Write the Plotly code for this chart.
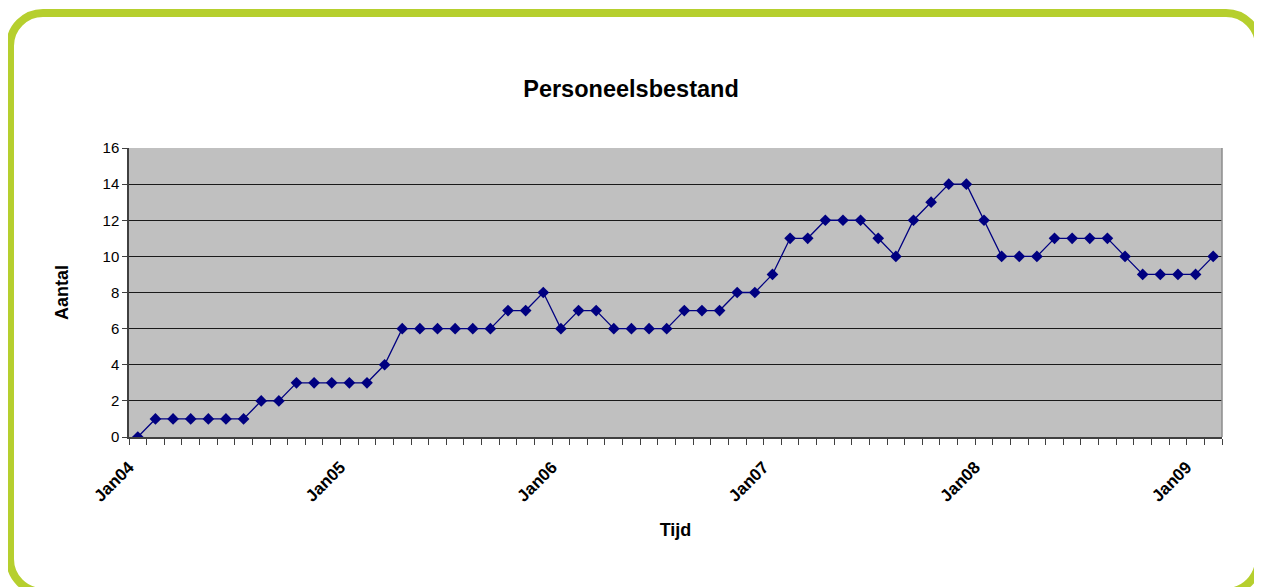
import plotly.graph_objects as go

months = ["Jan", "Feb", "Mar", "Apr", "May", "Jun", "Jul", "Aug", "Sep", "Oct", "Nov", "Dec"]
years = ["04", "05", "06", "07", "08", "09"]
categories = [m + y for y in years for m in months][:62]  # Jan04 .. Feb09

aantal = [0, 1, 1, 1, 1, 1, 1, 2, 2, 3, 3, 3, 3, 3, 4, 6, 6, 6, 6, 6, 6, 7, 7, 8,
          6, 7, 7, 6, 6, 6, 6, 7, 7, 7, 8, 8, 9, 11, 11, 12, 12, 12, 11, 10, 12, 13,
          14, 14, 12, 10, 10, 10, 11, 11, 11, 11, 10, 9, 9, 9, 9, 10]

x_idx = list(range(len(categories)))
label_idx = [i for i, c in enumerate(categories) if c.startswith("Jan")]
label_text = [categories[i] for i in label_idx]

OFF = 8  # default body margin of the html page
W, H = 1262 - OFF, 587 - OFF
L, R, T, B = 129 - OFF, 1222 - OFF, 148 - OFF, 437 - OFF


def px(x):
    return (x - OFF - L) / (R - L)


def py(y):
    return (B - (y - OFF)) / (B - T)


fig = go.Figure()
fig.add_trace(go.Scatter(
    x=x_idx, y=aantal, mode="lines+markers",
    line=dict(color="#000080", width=1.3),
    marker=dict(symbol="diamond", size=9, color="#000080"),
    hovertext=categories, showlegend=False,
))

# rounded green frame (window pixel coordinates)
l, t, r, b, rad = 10, 13, 1259, 592, 33
k = rad * 0.5523
path = (
    f"M {px(l)},{py(t + rad)} L {px(l)},{py(b - rad)} "
    f"C {px(l)},{py(b - rad + k)} {px(l + rad - k)},{py(b)} {px(l + rad)},{py(b)} "
    f"L {px(r - rad)},{py(b)} "
    f"C {px(r - rad + k)},{py(b)} {px(r)},{py(b - rad + k)} {px(r)},{py(b - rad)} "
    f"L {px(r)},{py(t + rad)} "
    f"C {px(r)},{py(t + rad - k)} {px(r - rad + k)},{py(t)} {px(r - rad)},{py(t)} "
    f"L {px(l + rad)},{py(t)} "
    f"C {px(l + rad - k)},{py(t)} {px(l)},{py(t + rad - k)} {px(l)},{py(t + rad)} Z"
)
fig.add_shape(type="path", xref="paper", yref="paper", path=path,
              line=dict(color="#B6CF2E", width=8), layer="above")
# right border of plot area
fig.add_shape(type="line", xref="paper", yref="paper", x0=1, x1=1, y0=0, y1=1,
              line=dict(color="#8C8C8C", width=1.5))

fig.update_layout(
    width=W, height=H,
    margin=dict(l=L, r=W - R, t=T, b=H - B),
    paper_bgcolor="white", plot_bgcolor="#C0C0C0",
    font=dict(family="Arial, Liberation Sans, sans-serif", color="black"),
    title=dict(text="<b>Personeelsbestand</b>", x=(631 - OFF) / W, xref="container",
               xanchor="center", y=1 - (89 - OFF) / H, yanchor="middle",
               font=dict(size=23.5)),
)
fig.update_xaxes(
    range=[-0.5, len(categories) - 0.5],
    tickmode="array", tickvals=[i - 0.5 for i in label_idx], ticktext=label_text,
    tickangle=-45, ticks="", tickfont=dict(size=17, weight="bold"),
    ticklabelstandoff=12,
    showgrid=False, zeroline=False,
    showline=True, linecolor="#404040", linewidth=1.5,
    minor=dict(tickmode="linear", tick0=-0.5, dtick=1, ticks="outside",
               ticklen=6, tickcolor="#404040", tickwidth=1, showgrid=False),
    title=dict(text="<b>Tijd</b>", font=dict(size=18), standoff=19),
)
fig.update_yaxes(
    range=[0, 16], tickmode="linear", tick0=0, dtick=2,
    ticks="outside", ticklen=5, tickcolor="#404040",
    tickfont=dict(size=15),
    showgrid=True, gridcolor="#1a1a1a", gridwidth=1, zeroline=False,
    showline=True, linecolor="#404040", linewidth=1.5,
    title=dict(text="<b>Aantal</b>", font=dict(size=18), standoff=29),
)

fig.write_html("out.html")
